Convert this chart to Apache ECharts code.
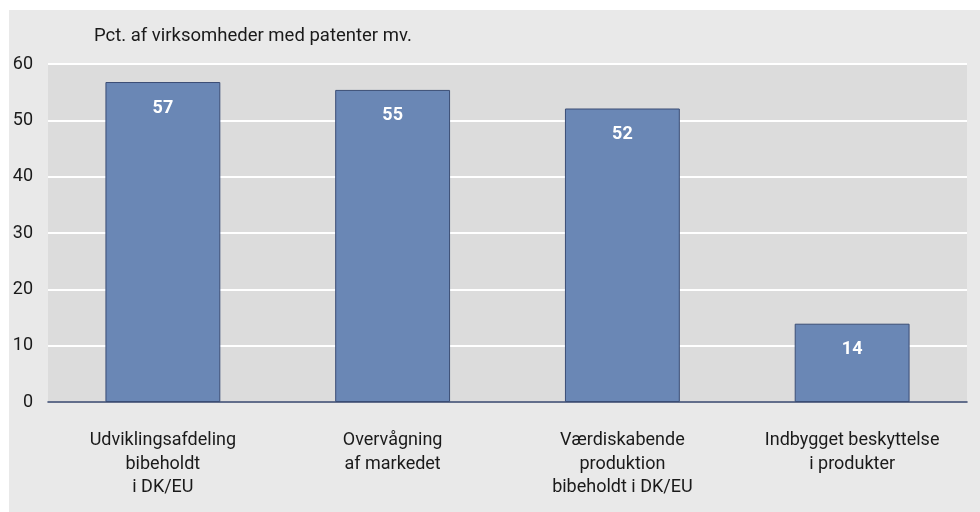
<!DOCTYPE html>
<html>
<head>
<meta charset="utf-8">
<script src="https://cdn.jsdelivr.net/npm/echarts@6/dist/echarts.min.js"></script>
<style>
  html, body { margin: 0; padding: 0; background: #ffffff; }
  #chart { position: absolute; left: 9px; top: 10px; width: 971px; height: 502px; }
</style>
</head>
<body>
<div id="chart"></div>
<script>
const categories = [
  'Udviklingsafdeling\nbibeholdt\ni DK/EU',
  'Overvågning\naf markedet',
  'Værdiskabende\nproduktion\nbibeholdt i DK/EU',
  'Indbygget beskyttelse\ni produkter'
]
const values = [56.8, 55.4, 52.1, 13.9]
const yTicks = [0, 10, 20, 30, 40, 50, 60]
const unitLabel = 'Pct. af virksomheder med patenter mv.'

const font = 'Roboto, "Noto Sans", sans-serif'
const chart = echarts.init(document.getElementById('chart'))

chart.setOption({
  backgroundColor: '#e9e9e9',
  animation: false,
  title: {
    text: unitLabel,
    left: 80,
    top: 12,
    textStyle: { fontFamily: font, fontSize: 18.5, fontWeight: 'normal', color: '#1a1a1a' }
  },
  grid: {
    left: 39,
    right: 13,
    top: 54,
    bottom: 110,
    show: true,
    backgroundColor: '#dcdcdc',
    borderWidth: 0
  },
  xAxis: {
    type: 'category',
    data: categories,
    axisTick: { show: false },
    axisLine: { lineStyle: { color: '#2f3f66', width: 1.5 } },
    axisLabel: {
      fontFamily: font,
      fontSize: 18,
      color: '#1a1a1a',
      lineHeight: 23.5,
      margin: 27
    }
  },
  yAxis: {
    type: 'value',
    min: yTicks[0],
    max: yTicks[yTicks.length - 1],
    interval: 10,
    axisLine: { show: false },
    axisTick: { show: false },
    splitLine: { lineStyle: { color: '#ffffff', width: 2 } },
    axisLabel: { fontFamily: font, fontSize: 18, color: '#1a1a1a', margin: 15 }
  },
  series: [
    {
      type: 'bar',
      data: values,
      barWidth: '50%',
      itemStyle: { color: '#6a87b5', borderColor: '#3a4d75', borderWidth: 1 },
      label: {
        show: true,
        position: 'insideTop',
        distance: 17,
        color: '#ffffff',
        fontFamily: font,
        fontSize: 18,
        fontWeight: 'bold',
        formatter: (p) => Math.round(p.value)
      }
    }
  ]
})
</script>
</body>
</html>
